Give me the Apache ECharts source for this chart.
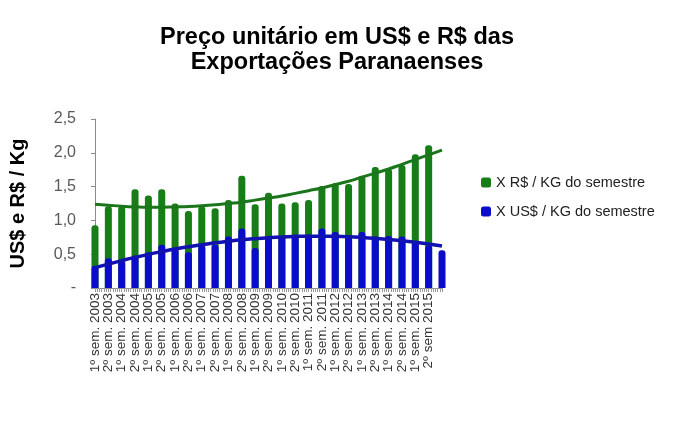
<!DOCTYPE html>
<html><head><meta charset="utf-8">
<script src="https://cdn.jsdelivr.net/npm/echarts@6/dist/echarts.min.js"></script>
<style>html,body{margin:0;padding:0;background:#fff}#c{width:677px;height:424px}</style>
</head><body><div id="c"></div>
<script>
var categories = ['1º sem. 2003','2º sem. 2003','1º sem. 2004','2º sem. 2004','1º sem. 2005','2º sem. 2005','1º sem. 2006','2º sem. 2006','1º sem. 2007','2º sem. 2007','1º sem. 2008','2º sem. 2008','1º sem. 2009','2º sem. 2009','1º sem. 2010','2º sem. 2010','1º sem. 2011','2º sem. 2011','1º sem. 2012','2º sem. 2012','1º sem. 2013','2º sem. 2013','1º sem. 2014','2º sem. 2014','1º sem. 2015','2º sem 2015',''];
var realPerKg = [0.93,1.21,1.21,1.46,1.37,1.46,1.25,1.14,1.21,1.18,1.30,1.66,1.24,1.41,1.25,1.27,1.30,1.51,1.55,1.54,1.66,1.79,1.76,1.82,1.98,2.11,null];
var usdPerKg = [0.33,0.44,0.40,0.48,0.53,0.64,0.58,0.53,0.63,0.64,0.76,0.88,0.59,0.77,0.77,0.79,0.79,0.88,0.83,0.76,0.83,0.76,0.77,0.76,0.68,0.63,0.56];
var realTrend = [1.24,1.225,1.21,1.20,1.195,1.195,1.20,1.205,1.215,1.23,1.25,1.27,1.30,1.33,1.36,1.40,1.44,1.48,1.53,1.58,1.64,1.70,1.76,1.83,1.90,1.97,2.04];
var usdTrend = [0.30,0.354,0.405,0.453,0.497,0.538,0.576,0.610,0.640,0.668,0.692,0.713,0.730,0.744,0.755,0.762,0.766,0.766,0.764,0.758,0.748,0.735,0.719,0.699,0.676,0.650,0.620];
var yTicks = ['-','0,5','1,0','1,5','2,0','2,5'];
var serieNames = ['X R$ / KG do semestre','X US$ / KG do semestre'];

var FONT = '"Liberation Sans", Arial, sans-serif';
var chart = echarts.init(document.getElementById('c'), null, {renderer:'canvas'});
chart.setOption({
  animation:false,
  backgroundColor:'#fff',
  title:{
    text:'Preço unitário em US$ e R$ das\nExportações Paranaenses',
    left:332, textAlign:'center', top:20,
    textStyle:{fontFamily:FONT,fontSize:23.5,fontWeight:'bold',color:'#000',lineHeight:25}
  },
  legend:{
    orient:'vertical', left:476, top:170, itemGap:14,
    itemWidth:10, itemHeight:10, icon:'roundRect',
    data:serieNames,
    textStyle:{fontFamily:FONT,fontSize:14.5,color:'#222'}
  },
  grid:{left:94, top:119, width:348, height:169, containLabel:false},
  xAxis:[{
    type:'category', data:categories, boundaryGap:false,
    axisLine:{lineStyle:{color:'#8c8c8c',width:1}},
    axisTick:{show:false},
    axisLabel:{rotate:90, interval:0, margin:5, fontFamily:FONT, fontSize:13.5, color:'#333'}
  },{
    type:'value', position:'bottom', min:0, max:26, interval:1,
    axisLine:{show:false}, axisLabel:{show:false}, splitLine:{show:false},
    axisTick:{show:true, length:4, lineStyle:{color:'#9a9a9a'}},
    minorTick:{show:true, splitNumber:6, length:4, lineStyle:{color:'#9a9a9a'}},
    minorSplitLine:{show:false}
  }],
  yAxis:{
    type:'value', min:0, max:2.5, interval:0.5,
    name:'US$ e R$ / Kg', nameLocation:'middle', nameRotate:90, nameGap:67,
    nameTextStyle:{fontFamily:FONT,fontSize:20,fontWeight:'bold',color:'#000'},
    axisLine:{show:true, lineStyle:{color:'#8c8c8c'}},
    axisTick:{show:true, length:4, lineStyle:{color:'#8c8c8c'}},
    splitLine:{show:false},
    axisLabel:{margin:19, fontFamily:FONT, fontSize:16, color:'#595959',
      formatter:function(v){ return yTicks[Math.round(v/0.5)]; }}
  },
  series:[
    {name:serieNames[0], type:'bar', data:realPerKg, barWidth:7, barGap:'-100%',
     itemStyle:{color:'#177d17', borderRadius:[3,3,0,0]}, z:2},
    {name:serieNames[1], type:'bar', data:usdPerKg, barWidth:7,
     itemStyle:{color:'#0b0bcc', borderRadius:[3,3,0,0]}, z:3},
    {name:'tR', type:'line', data:realTrend, smooth:true, symbol:'none',
     lineStyle:{color:'#1b761b', width:3}, z:4},
    {name:'tU', type:'line', data:usdTrend, smooth:true, symbol:'none',
     lineStyle:{color:'#1212b0', width:3.5}, z:5}
  ]
});
</script></body></html>
